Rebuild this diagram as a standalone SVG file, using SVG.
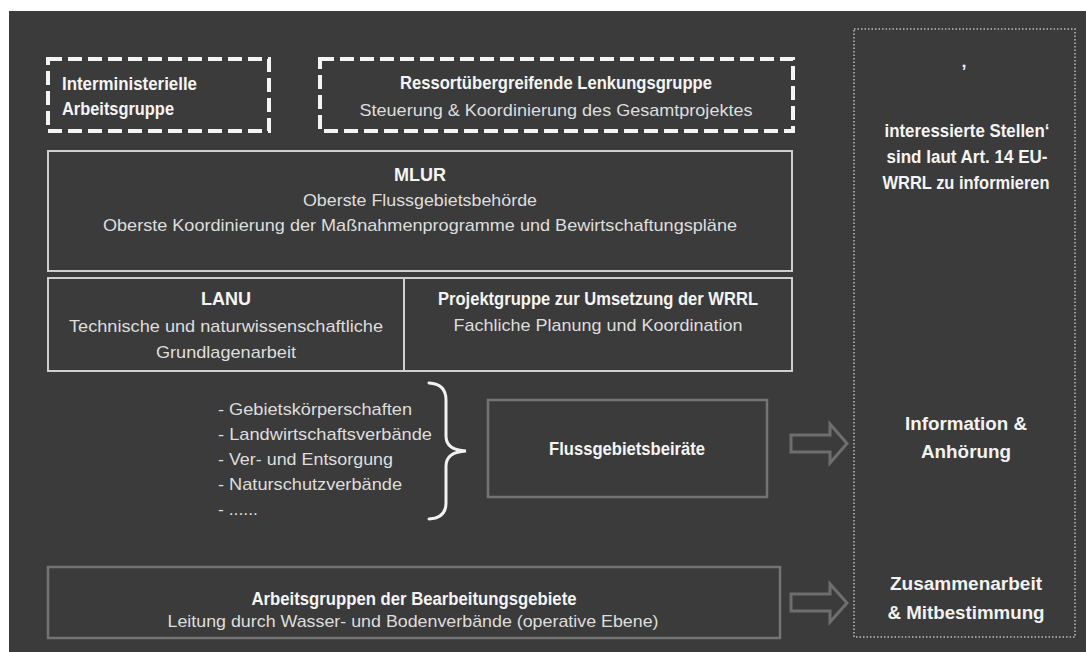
<svg xmlns="http://www.w3.org/2000/svg" width="1086" height="652" viewBox="0 0 1086 652">
<style>
.bg{fill:#3b3b3b}
.dash{fill:none;stroke:#f4f4f4;stroke-width:4;stroke-dasharray:14 6}
.box{fill:none;stroke:#cfcfcf;stroke-width:2}
.gbox{fill:none;stroke:#747474;stroke-width:2.5}
.dot{fill:none;stroke:#9c9c9c;stroke-width:2;stroke-dasharray:1.5 2}
.arrow{fill:none;stroke:#6e6e6e;stroke-width:3;stroke-linejoin:miter}
.brace{fill:none;stroke:#f2f2f2;stroke-width:3;stroke-linecap:round}
.t{font-family:"Liberation Sans Narrow","Liberation Sans",Arial,sans-serif;font-weight:bold;font-size:18px;fill:#f4f4f4}
.r{font-family:"Liberation Sans",Arial,sans-serif;font-size:17px;fill:#dedede}
.rb{font-family:"Liberation Sans",Arial,sans-serif;font-weight:bold;font-size:18px;fill:#f2f2f2}
.m{text-anchor:middle}
</style>
<rect x="0" y="0" width="1086" height="652" fill="#ffffff"/>
<rect class="bg" x="9" y="11" width="1077" height="641"/>

<g id="interministerielle">
<rect class="dash" x="48" y="59" width="221" height="72"/>
<text class="t" x="62" y="90" textLength="135" lengthAdjust="spacingAndGlyphs">Interministerielle</text>
<text class="t" x="62" y="115" textLength="112" lengthAdjust="spacingAndGlyphs">Arbeitsgruppe</text>
</g>

<g id="lenkungsgruppe">
<rect class="dash" x="320" y="59" width="473" height="72"/>
<text class="t m" x="556" y="89" textLength="312" lengthAdjust="spacingAndGlyphs">Ressortübergreifende Lenkungsgruppe</text>
<text class="r m" x="556" y="116" textLength="393" lengthAdjust="spacingAndGlyphs">Steuerung &amp; Koordinierung des Gesamtprojektes</text>
</g>

<g id="mlur">
<rect class="box" x="48" y="151" width="744" height="120"/>
<text class="t m" x="420" y="181">MLUR</text>
<text class="r m" x="420" y="206" textLength="234" lengthAdjust="spacingAndGlyphs">Oberste Flussgebietsbehörde</text>
<text class="r m" x="420" y="231" textLength="634" lengthAdjust="spacingAndGlyphs">Oberste Koordinierung der Maßnahmenprogramme und Bewirtschaftungspläne</text>
</g>

<g id="lanu">
<rect class="box" x="48" y="278" width="356" height="93"/>
<text class="t m" x="226" y="305">LANU</text>
<text class="r m" x="226" y="332" textLength="314" lengthAdjust="spacingAndGlyphs">Technische und naturwissenschaftliche</text>
<text class="r m" x="226" y="358" textLength="140" lengthAdjust="spacingAndGlyphs">Grundlagenarbeit</text>
</g>

<g id="projektgruppe">
<rect class="box" x="404" y="278" width="388" height="93"/>
<text class="t m" x="598" y="305" textLength="320" lengthAdjust="spacingAndGlyphs">Projektgruppe zur Umsetzung der WRRL</text>
<text class="r m" x="598" y="331" textLength="289" lengthAdjust="spacingAndGlyphs">Fachliche Planung und Koordination</text>
</g>

<g id="liste">
<text class="r" x="218" y="415" textLength="194" lengthAdjust="spacingAndGlyphs">- Gebietskörperschaften</text>
<text class="r" x="218" y="440" textLength="214" lengthAdjust="spacingAndGlyphs">- Landwirtschaftsverbände</text>
<text class="r" x="218" y="465" textLength="175" lengthAdjust="spacingAndGlyphs">- Ver- und Entsorgung</text>
<text class="r" x="218" y="490" textLength="184" lengthAdjust="spacingAndGlyphs">- Naturschutzverbände</text>
<text class="r" x="218" y="515" textLength="40" lengthAdjust="spacingAndGlyphs">- ......</text>
<path class="brace" d="M429,383 Q446,384 446,400 L446,436 Q446,450 466,451 Q446,452 446,466 L446,503 Q446,518 429,519"/>
</g>

<g id="flussgebietsbeiraete">
<rect class="gbox" x="488" y="400" width="279" height="97"/>
<text class="t m" x="627" y="455" textLength="156" lengthAdjust="spacingAndGlyphs">Flussgebietsbeiräte</text>
</g>

<g id="arbeitsgruppen">
<rect class="gbox" x="48" y="567" width="732" height="71"/>
<text class="t m" x="414" y="605" textLength="325" lengthAdjust="spacingAndGlyphs">Arbeitsgruppen der Bearbeitungsgebiete</text>
<text class="r m" x="413" y="627" textLength="491" lengthAdjust="spacingAndGlyphs">Leitung durch Wasser- und Bodenverbände (operative Ebene)</text>
</g>

<g id="stellen">
<rect class="dot" x="854" y="29" width="221" height="608"/>
<text class="t m" x="964" y="67">‚</text>
<text class="t m" x="967" y="137" textLength="165" lengthAdjust="spacingAndGlyphs">interessierte Stellen‘</text>
<text class="t m" x="967" y="163" textLength="161" lengthAdjust="spacingAndGlyphs">sind laut Art. 14 EU-</text>
<text class="t m" x="966" y="189" textLength="167" lengthAdjust="spacingAndGlyphs">WRRL zu informieren</text>
<text class="rb m" x="966" y="430" textLength="122" lengthAdjust="spacingAndGlyphs">Information &amp;</text>
<text class="rb m" x="966" y="458" textLength="90" lengthAdjust="spacingAndGlyphs">Anhörung</text>
<text class="rb m" x="966" y="590" textLength="152" lengthAdjust="spacingAndGlyphs">Zusammenarbeit</text>
<text class="rb m" x="966" y="619" textLength="157" lengthAdjust="spacingAndGlyphs">&amp; Mitbestimmung</text>
</g>

<g id="connectors">
<path class="arrow" d="M791,435 L830,435 L830,424 L847,443.5 L830,463 L830,452 L791,452 Z"/>
<path class="arrow" d="M791,594 L830,594 L830,584 L847,603 L830,622 L830,611 L791,611 Z"/>
</g>
</svg>
